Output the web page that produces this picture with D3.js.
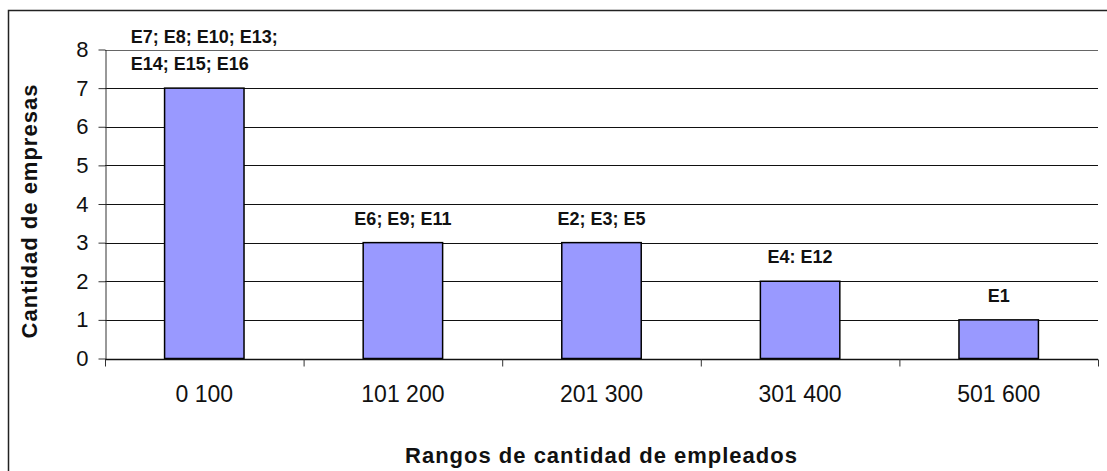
<!DOCTYPE html>
<html>
<head>
<meta charset="utf-8">
<script src="https://cdn.jsdelivr.net/npm/d3@7"></script>
<style>
  body { margin: 0; background: #fff; }
  text { font-family: "Liberation Sans", Arial, sans-serif; }
</style>
</head>
<body>
<svg id="chart" width="1107" height="471"></svg>
<script>
// data
const categories = ['0 100', '101 200', '201 300', '301 400', '501 600'];
const values = [7, 3, 3, 2, 1];
const labels = [
  ['E7; E8; E10; E13;', 'E14; E15; E16'],
  ['E6; E9; E11'],
  ['E2; E3; E5'],
  ['E4: E12'],
  ['E1']
];
const yTicks = [0, 1, 2, 3, 4, 5, 6, 7, 8];

const width = 1107, height = 471;
const margin = { top: 49.5, right: 9, bottom: 112.5, left: 105 };

const svg = d3.select('#chart');

// outer chart border (runs off the page on the right and bottom)
svg.append('rect')
  .attr('x', 8.5).attr('y', 10.5)
  .attr('width', 1200).attr('height', 600)
  .attr('fill', 'none')
  .attr('stroke', '#222')
  .attr('stroke-width', 1.5);

const x = d3.scaleBand()
  .domain(categories)
  .range([margin.left, width - margin.right])
  .paddingInner(0.6)
  .paddingOuter(0.3);

const band = d3.scaleBand()
  .domain(categories)
  .range([margin.left, width - margin.right]);

const y = d3.scaleLinear()
  .domain([0, 8])
  .range([height - margin.bottom, margin.top]);

// gridlines
svg.append('g')
  .selectAll('line')
  .data(yTicks.filter(d => d > 0))
  .enter()
  .append('line')
  .attr('x1', margin.left)
  .attr('x2', width - margin.right)
  .attr('y1', d => Math.round(y(d)) + 0.5)
  .attr('y2', d => Math.round(y(d)) + 0.5)
  .attr('stroke', d => d === 8 ? '#666' : '#111')
  .attr('stroke-width', 1);

// bars
svg.append('g')
  .selectAll('rect')
  .data(values)
  .enter()
  .append('rect')
  .attr('x', (d, i) => x(categories[i]))
  .attr('y', d => y(d))
  .attr('width', x.bandwidth())
  .attr('height', d => y(0) - y(d))
  .attr('fill', '#9999ff')
  .attr('stroke', '#000')
  .attr('stroke-width', 1.5);

// y axis
const yAxis = svg.append('g')
  .attr('transform', `translate(${margin.left + 0.5},0)`)
  .call(d3.axisLeft(y).tickValues(yTicks).tickSize(7).tickPadding(10).tickSizeOuter(0));
yAxis.select('.domain').attr('stroke', '#333');
yAxis.selectAll('.tick line').attr('stroke', '#333');
yAxis.selectAll('text')
  .attr('font-size', 22)
  .attr('fill', '#111')
  .attr('font-family', '"Liberation Sans", Arial, sans-serif');

// x axis: ticks sit on the category boundaries
const xAxis = svg.append('g')
  .attr('transform', `translate(0,${Math.round(y(0)) + 0.5})`);
xAxis.append('line')
  .attr('x1', margin.left)
  .attr('x2', width - margin.right)
  .attr('stroke', '#111')
  .attr('stroke-width', 1.5);
xAxis.selectAll('.bound')
  .data(categories.concat(['end']))
  .enter()
  .append('line')
  .attr('x1', (d, i) => margin.left + i * band.bandwidth() + 0.5)
  .attr('x2', (d, i) => margin.left + i * band.bandwidth() + 0.5)
  .attr('y1', 0)
  .attr('y2', 7)
  .attr('stroke', '#333');
xAxis.selectAll('.cat')
  .data(categories)
  .enter()
  .append('text')
  .attr('x', d => band(d) + band.bandwidth() / 2)
  .attr('y', 42)
  .attr('text-anchor', 'middle')
  .attr('font-size', 23)
  .attr('fill', '#111')
  .text(d => d);

// data labels above the bars, lines left-aligned inside a centred block
const lineGap = 27;
labels.forEach((lines, i) => {
  const cx = x(categories[i]) + x.bandwidth() / 2;
  const base = y(values[i]) - 18;
  const g = svg.append('g');
  const texts = g.selectAll('text')
    .data(lines)
    .enter()
    .append('text')
    .attr('y', (d, j) => base - (lines.length - 1 - j) * lineGap)
    .attr('font-size', 18)
    .attr('font-weight', 'bold')
    .attr('fill', '#111')
    .text(d => d);
  let maxW = 0;
  texts.each(function () { maxW = Math.max(maxW, this.getComputedTextLength()); });
  texts.attr('x', cx - maxW / 2);
});

// axis titles
svg.append('text')
  .attr('x', (margin.left + width - margin.right) / 2)
  .attr('y', 463)
  .attr('text-anchor', 'middle')
  .attr('font-size', 22)
  .attr('font-weight', 'bold')
  .attr('letter-spacing', 1)
  .attr('fill', '#111')
  .text('Rangos de cantidad de empleados');

svg.append('text')
  .attr('transform', 'translate(37,211) rotate(-90)')
  .attr('text-anchor', 'middle')
  .attr('font-size', 22)
  .attr('font-weight', 'bold')
  .attr('letter-spacing', 1)
  .attr('fill', '#111')
  .text('Cantidad de empresas');
</script>
</body>
</html>
